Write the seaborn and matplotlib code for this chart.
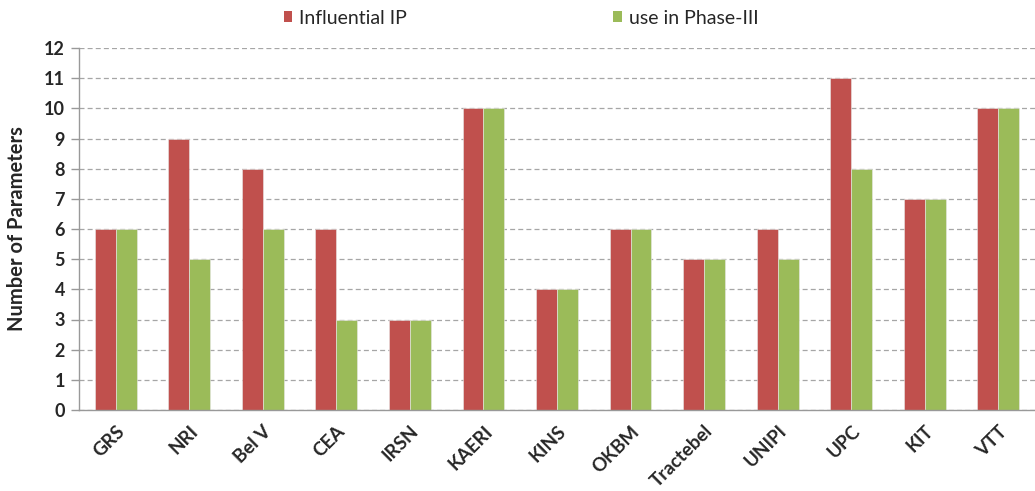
import matplotlib
matplotlib.use("Agg")
import matplotlib.pyplot as plt
import seaborn as sns
import pandas as pd
import numpy as np
from matplotlib.patches import Patch

categories = ["GRS", "NRI", "Bel V", "CEA", "IRSN", "KAERI", "KINS", "OKBM",
              "Tractebel", "UNIPI", "UPC", "KIT", "VTT"]
influential_ip = [6, 9, 8, 6, 3, 10, 4, 6, 5, 6, 11, 7, 10]
use_phase3 = [6, 5, 6, 3, 3, 10, 4, 6, 5, 5, 8, 7, 10]
series_names = ["Influential IP", "use in Phase-III"]
colors = ["#C0504D", "#9BBB59"]
y_ticks = list(range(0, 13))

sns.set_theme(style="white")
plt.rcParams['font.family'] = ['Lato', 'DejaVu Sans']

df = pd.DataFrame({
    "cat": categories * 2,
    "val": influential_ip + use_phase3,
    "series": [series_names[0]] * len(categories) + [series_names[1]] * len(categories),
})

fig = plt.figure(figsize=(10.35, 4.91), dpi=100)
ax = fig.add_axes([79/1035, 1 - 410/491, 1 - 79/1035, (410 - 48)/491])

sns.barplot(data=df, x="cat", y="val", hue="series", palette=colors,
            width=0.57, ax=ax, legend=False, saturation=1,
            edgecolor="#E8E8E8", linewidth=0.4)

ax.set_xlim(-0.5, len(categories) - 0.5)
ax.set_ylim(0, 12)
ax.set_yticks(y_ticks)
ax.set_yticklabels([str(t) for t in y_ticks], fontsize=13, fontweight="bold")
ax.yaxis.grid(True, color="#A6A6A6", linestyle=(0, (4, 2.5)), linewidth=0.9)
ax.set_axisbelow(True)

ax.set_xticks(range(len(categories)))
ax.set_xticklabels(categories, fontsize=13.5, fontweight="bold", rotation=45,
                   ha="right", rotation_mode="anchor")
ax.tick_params(axis="x", which="major", length=0, pad=9)
ax.set_xticks(np.arange(-0.5, len(categories), 1), minor=True)
ax.tick_params(axis="x", which="minor", length=6, color="#999999", width=1, direction="out")
ax.tick_params(axis="y", length=6, color="#999999", width=1, direction="out", left=True, pad=4)

for s in ["top", "right"]:
    ax.spines[s].set_visible(False)
for s in ["left", "bottom"]:
    ax.spines[s].set_color("#999999")
    ax.spines[s].set_linewidth(1)

ax.set_xlabel("")
ax.set_ylabel("Number of Parameters", fontsize=14.5, fontweight="bold")
ax.yaxis.set_label_coords(-0.054, 0.5)

handles = [Patch(facecolor=c, edgecolor="none") for c in colors]
fig.legend(handles, series_names, loc="center", bbox_to_anchor=(521/1035, 1 - 18/491),
           ncol=2, frameon=False, fontsize=14, handlelength=0.45, handleheight=0.45,
           handletextpad=0.35, columnspacing=10.6)

fig.savefig("out.png", dpi=100)
